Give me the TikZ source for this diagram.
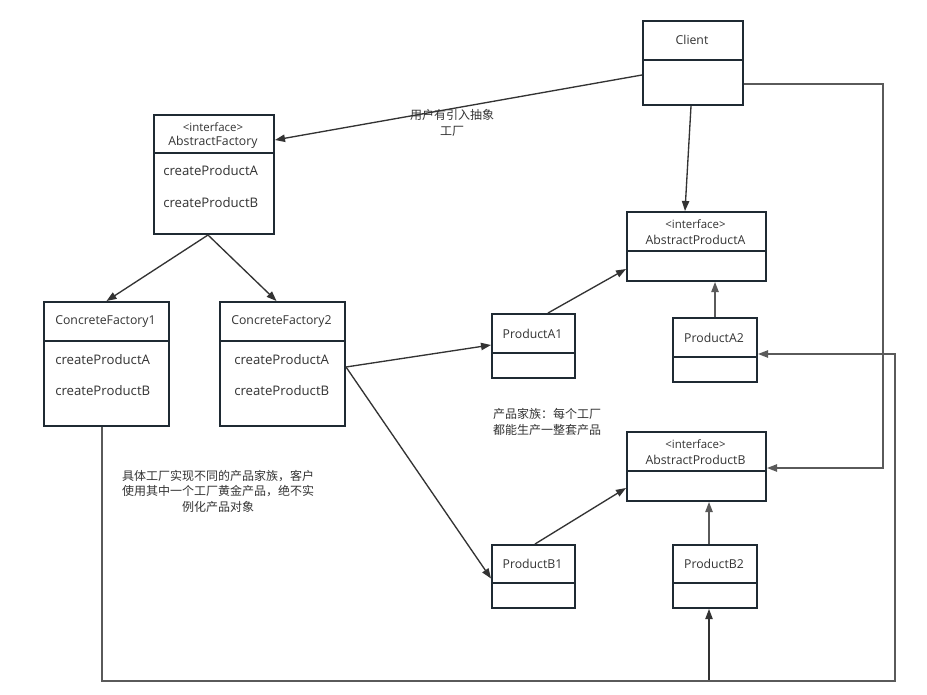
\documentclass[tikz,border=0pt]{standalone}
\usepackage{fontspec}
\setmainfont{Open Sans}
\newfontfamily\cjk{Noto Sans CJK SC}
\usetikzlibrary{arrows.meta,calc}
\definecolor{boxline}{HTML}{1F2A33}
\definecolor{linkdark}{HTML}{333333}
\definecolor{linkgray}{HTML}{5A5A5A}
\tikzset{
  umlbox/.style={draw=boxline, line width=1.5pt, anchor=north west, inner sep=0pt},
  ttl/.style={font=\fontsize{9.2}{11}\selectfont, text=black!80, inner sep=0pt},
  stereo/.style={font=\fontsize{8.6}{10}\selectfont, text=black!80, inner sep=0pt},
  meth/.style={font=\fontsize{9.9}{12}\selectfont, text=black!80, anchor=west, inner sep=0pt},
  note/.style={font=\cjk\fontsize{9}{11.6}\selectfont, text=black!80, align=center, inner sep=0pt},
  conn/.style={draw=linkdark, line width=1pt, -{Triangle[length=7.5pt,width=5.5pt]}},
  conngray/.style={conn, draw=linkgray}
}
\begin{document}
\begin{tikzpicture}[x=0.75pt, y=-0.75pt]

\path[fill=white, use as bounding box] (0,0) rectangle (927,695);

\foreach \n/\l/\t/\w/\h/\d in {client/642/20/100/84/40, af/153/114/120/119/39, cf1/43/301/125/124/40, cf2/219/301/125/124/40, apa/626/211/139/69/40, pa1/491/313/83/64/40, pa2/672/317/84/64/40, apb/626/431/139/69/40, pb1/491/544/83/63/39, pb2/672/544/84/63/39}
{
  \node[umlbox, minimum width=\w*0.75pt, minimum height=\h*0.75pt] (\n) at (\l,\t) {};
  \draw[boxline, line width=1.5pt] (\l,\t+\d) -- (\l+\w,\t+\d);
}

\node[ttl] (clientname) at (692,40) {Client};

\node[stereo] (afstereo) at (213,127) {<interface>};
\node[ttl] (afname) at (213,142) {AbstractFactory};
\node[meth] (afa) at (163,171) {createProductA};
\node[meth] (afb) at (163,203) {createProductB};

\node[ttl] (cf1name) at (105.5,322) {ConcreteFactory1};
\node[meth] (cf1a) at (55,360) {createProductA};
\node[meth] (cf1b) at (55,391) {createProductB};

\node[ttl] (cf2name) at (281.5,322) {ConcreteFactory2};
\node[meth] (cf2a) at (234,360) {createProductA};
\node[meth] (cf2b) at (234,391) {createProductB};

\node[stereo] (apastereo) at (695.5,224) {<interface>};
\node[ttl] (apaname) at (695.5,240) {AbstractProductA};
\node[ttl] (pa1name) at (532.5,334) {ProductA1};
\node[ttl] (pa2name) at (714,338) {ProductA2};

\node[stereo] (apbstereo) at (695.5,444) {<interface>};
\node[ttl] (apbname) at (695.5,460) {AbstractProductB};
\node[ttl] (pb1name) at (532.5,564) {ProductB1};
\node[ttl] (pb2name) at (714,564) {ProductB2};

\node[note] (usernote) at (452,123) {用户有引入抽象\\工厂};
\node[note] (factnote) at (218,491) {具体工厂实现不同的产品家族，客户\\使用其中一个工厂黄金产品，绝不实\\例化产品对象};
\node[note] (famnote) at (547,422) {产品家族：每个工厂\\都能生产一整套产品};

\draw[conn] ($(client.north west)+(0,55)$) -- ($(af.north east)+(0,26)$);
\draw[conn] ($(client.south)+(-2,0)$) -- ($(apa.north)+(-11.5,0)$);
\draw[conngray] ($(client.north east)+(0,64)$) -- ++(139,0) |- ($(apb.east)+(0,1.5)$);

\draw[conn] ($(af.south)+(-6,0)$) -- (cf1.north);
\draw[conn] ($(af.south)+(-6,0)$) -- ($(cf2.north)+(-6,0)$);

\draw[conn] ($(cf2.east)+(0,3)$) -- ($(pa1.west)+(0,-1)$);
\draw[conn] ($(cf2.east)+(0,3)$) -- ($(pb1.west)+(0,2)$);

\draw[conn] ($(pa1.north)+(14.5,0)$) -- ($(apa.west)+(0,22.5)$);
\draw[conngray] (pa2.north) -- (pa2.north |- apa.south);
\draw[conn] ($(pb1.north)+(1.5,0)$) -- ($(apb.west)+(0,21.5)$);
\draw[conngray] ($(pb2.north)+(-6,0)$) -- ($(pb2.north |- apb.south)+(-6,0)$);

\draw[conn, line width=0.8pt] ($(cf1.south)+(-4.5,0)$) -- ++(0,254) -| ($(pb2.south)+(-6,0)$);
\draw[conngray] ($(cf1.south)+(-4.5,0)$) -- ++(0,254) -- ++(793,0) |- ($(pa2.east)+(0,4)$);

\end{tikzpicture}
\end{document}
